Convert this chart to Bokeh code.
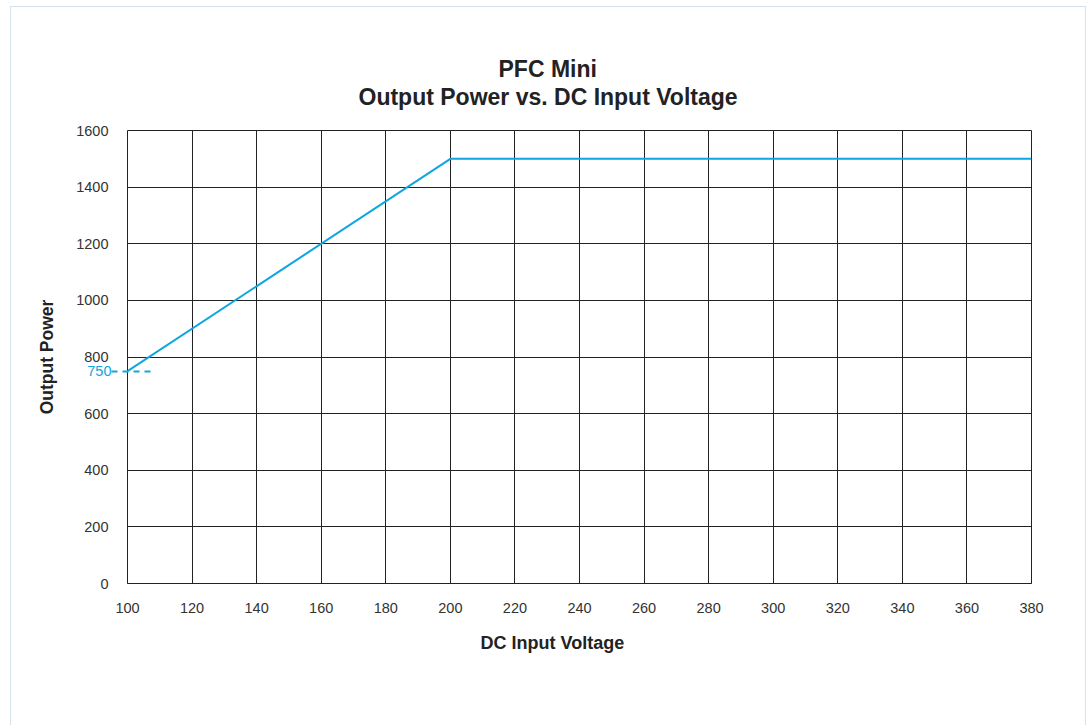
from bokeh.plotting import figure
from bokeh.models import Range1d, FixedTicker, Title, LinearAxis
from bokeh.embed import file_html
from bokeh.resources import INLINE

# Data
voltage = [100, 200, 380]
power = [750, 1500, 1500]
min_power = 750
x_ticks = list(range(100, 381, 20))
y_ticks = list(range(0, 1601, 200))

LINE = "#0ea5e0"
FONT = "Liberation Sans"
TXT = "#222222"

p = figure(width=1074, height=718, output_backend="svg", toolbar_location=None,
           x_range=Range1d(100, 380), y_range=Range1d(0, 1600),
           min_border_left=116, min_border_right=54, min_border_top=123, min_border_bottom=142)
p.styles = {"outline": "1px solid #d3e3e7", "margin-left": "11px", "margin-top": "7px"}

p.line(voltage, power, line_color=LINE, line_width=2)

main_y = p.yaxis[0]
for ax in (p.xaxis[0], main_y):
    ax.major_tick_line_color = None
    ax.minor_tick_line_color = None
    ax.major_tick_out = 0
    ax.major_tick_in = 0
    ax.major_label_text_font = FONT
    ax.major_label_text_font_size = "14.5px"
    ax.major_label_text_color = "#333333"

p.xaxis.axis_line_color = TXT
p.xaxis.major_label_standoff = 19
p.xaxis.ticker = FixedTicker(ticks=x_ticks)

# minimum-power marker axis (nearest the frame), main axis outside it
min_axis = LinearAxis(ticker=FixedTicker(ticks=[min_power]))
min_axis.axis_line_color = None
min_axis.minor_tick_line_color = None
min_axis.major_tick_line_color = LINE
min_axis.major_tick_line_width = 1.8
min_axis.major_tick_line_dash = "6 5"
min_axis.major_tick_out = 16
min_axis.major_tick_in = 26
min_axis.major_label_standoff = 0
min_axis.major_label_text_font = FONT
min_axis.major_label_text_font_size = "14.5px"
min_axis.major_label_text_color = LINE

main_y.axis_line_color = None
main_y.major_label_standoff = -24
main_y.ticker = FixedTicker(ticks=y_ticks)
main_y.axis_label = "Output Power"
main_y.axis_label_text_font = FONT
main_y.axis_label_text_font_style = "bold"
main_y.axis_label_text_font_size = "17.5px"
main_y.axis_label_text_color = TXT
main_y.axis_label_standoff = 16
p.left = [min_axis, main_y]

p.xgrid.ticker = FixedTicker(ticks=x_ticks)
p.ygrid.ticker = FixedTicker(ticks=y_ticks)
p.grid.grid_line_color = TXT
p.grid.grid_line_alpha = 1.0
p.grid.grid_line_width = 1
p.outline_line_color = TXT
p.outline_line_width = 1

# x label
p.add_layout(Title(text="DC Input Voltage", align="left", offset=480 - 127, text_font=FONT,
                   text_font_size="18px", text_font_style="bold", text_color=TXT,
                   standoff=31), "below")

# Titles (a blank spacer title keeps the gap above the frame)
p.add_layout(Title(text=" ", align="left", text_font=FONT, text_font_size="1px",
                   standoff=18), "above")
p.add_layout(Title(text="Output Power vs. DC Input Voltage", align="left", offset=358 - 127,
                   text_font=FONT, text_font_size="23px", text_font_style="bold",
                   text_color=TXT, standoff=0), "above")
p.add_layout(Title(text="PFC Mini", align="left", offset=498 - 127,
                   text_font=FONT, text_font_size="23px", text_font_style="bold",
                   text_color=TXT, standoff=0), "above")
p.title.visible = False

open("out.html", "w").write(file_html(p, INLINE))
